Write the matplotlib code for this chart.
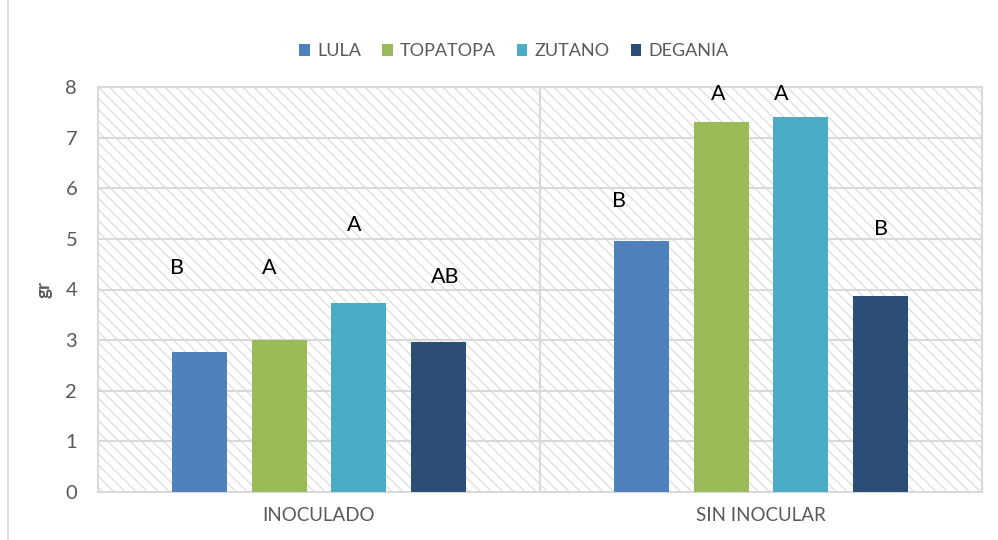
import matplotlib
matplotlib.use("Agg")
import matplotlib.pyplot as plt
from matplotlib.patches import Rectangle, Patch
from matplotlib.lines import Line2D
import numpy as np

plt.rcParams['font.family'] = ['Lato', 'DejaVu Sans']
plt.rcParams['hatch.color'] = '#E0E0E0'
plt.rcParams['hatch.linewidth'] = 1.0

categories = ["INOCULADO", "SIN INOCULAR"]
series = ["LULA", "TOPATOPA", "ZUTANO", "DEGANIA"]
lula = [2.77, 4.96]
topatopa = [3.01, 7.31]
zutano = [3.73, 7.41]
degania = [2.96, 3.87]
letters_lula = ["B", "B"]
letters_topatopa = ["A", "A"]
letters_zutano = ["A", "A"]
letters_degania = ["AB", "B"]
letter_y_lula = [4.43, 5.75]
letter_y_topatopa = [4.42, 7.87]
letter_y_zutano = [5.28, 7.87]
letter_y_degania = [4.25, 5.20]
yticks = [0, 1, 2, 3, 4, 5, 6, 7, 8]

colors = ["#4F81BD", "#9BBB59", "#4BACC6", "#2C4D75"]
values = [lula, topatopa, zutano, degania]
letters = [letters_lula, letters_topatopa, letters_zutano, letters_degania]
letter_ys = [letter_y_lula, letter_y_topatopa, letter_y_zutano, letter_y_degania]
letter_dx = [[-0.052, -0.052], [-0.023, -0.006], [-0.011, -0.045], [0.016, 0.002]]

fig = plt.figure(figsize=(9.98, 5.4), dpi=100)
ax = fig.add_axes([98/998, 48/540, (982-98)/998, (492-87)/540])
ax.set_xlim(-0.5, 1.5)
ax.set_ylim(0, 8)

# hatched background
bg = Rectangle((0, 0), 1, 1, transform=ax.transAxes, facecolor='white',
               edgecolor='#E0E0E0', hatch='\\\\\\', linewidth=0, zorder=0)
ax.add_patch(bg)

for y in yticks[1:]:
    ax.axhline(y, color='#D9D9D9', lw=1.5, zorder=1)
ax.axvline(0.5, color='#D9D9D9', lw=1.5, zorder=1)

x = np.arange(len(categories))
step = 0.18
width = 0.125
for i, (s, v, c) in enumerate(zip(series, values, colors)):
    pos = x + (i - 1.5) * step
    ax.bar(pos, v, width=width, color=c, label=s, zorder=3)
    for j in range(len(categories)):
        ax.text(pos[j] + letter_dx[i][j], letter_ys[i][j], letters[i][j],
                ha='center', va='center', fontsize=15.5, color='black', zorder=4)

for sp in ax.spines.values():
    sp.set_color('#D9D9D9')
    sp.set_linewidth(1.5)

ax.set_yticks(yticks)
ax.set_xticks(x)
ax.set_xticklabels(categories)
ax.tick_params(axis='y', length=0, labelsize=14.5, labelcolor='#595959', pad=15)
ax.tick_params(axis='x', length=0, labelsize=13.5, labelcolor='#595959', pad=11)
ax.set_ylabel("gr", fontsize=13.5, fontweight='bold', color='#595959', labelpad=9)

handles = [Patch(facecolor=c, edgecolor='none') for c in colors]
fig.legend(handles, series, loc='center', bbox_to_anchor=(0.515, 0.905), ncol=4,
           frameon=False, fontsize=13, labelcolor='#595959',
           handlelength=0.6, handleheight=0.6, handletextpad=0.4, columnspacing=1.15)

# outer chart frame line
fig.add_artist(Line2D([8/998, 8/998], [0, 1], transform=fig.transFigure,
                      color='#D9D9D9', lw=1.2))

fig.savefig("out.png", dpi=100)
